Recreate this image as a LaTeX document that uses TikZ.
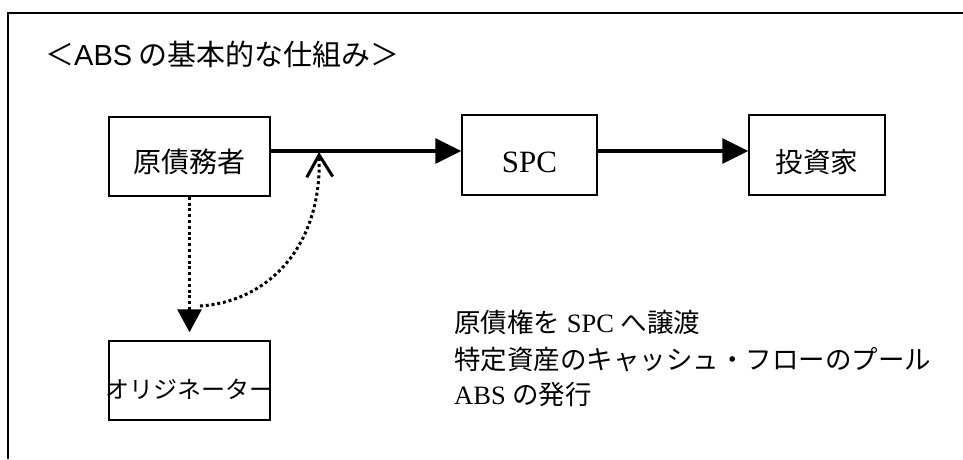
\documentclass[tikz,border=0pt]{standalone}
\usepackage{fontspec}
\setmainfont{Liberation Serif}
\newfontfamily\jp{Noto Sans CJK JP}
\newfontfamily\lsans{Liberation Sans}
\usetikzlibrary{arrows.meta}
\tikzset{
  box/.style={draw, line width=1.5pt, inner sep=0pt, text depth=0pt},
  flow/.style={line width=3.5pt, -{Triangle[length=26pt,width=25pt]}},
  dots/.style={line width=3pt, dash pattern=on 3pt off 2.8pt},
  txt/.style={anchor=base west, inner sep=0pt, font=\fontsize{26.5pt}{32pt}\selectfont},
  frame/.style={line width=2pt}
}
\begin{document}
\begin{tikzpicture}[x=1pt,y=-1pt]
\useasboundingbox (0,0) rectangle (963,459);
\draw[frame] (963,13) -- (8,13) -- (8,459);
% title
\node[anchor=base west, inner sep=0pt, font=\fontsize{29pt}{35pt}\selectfont] (title) at (45,65)
  {\jp ＜{\lsans ABS} の基本的な仕組み＞};
% boxes
\node[box, minimum width=161pt, minimum height=79pt, text height=31pt,
      font=\jp\fontsize{28pt}{34pt}\selectfont] (deb) at (189.5,156.5) {原債務者};
\node[box, minimum width=135pt, minimum height=80pt, text height=35pt,
      font=\fontsize{31pt}{36pt}\selectfont] (spc) at (529.5,155) {SPC};
\node[box, minimum width=136pt, minimum height=80pt, text height=34pt,
      font=\jp\fontsize{27.5pt}{33pt}\selectfont] (inv) at (817,155) {投資家};
\node[box, minimum width=161pt, minimum height=79pt, text height=35pt,
      font=\jp\fontsize{24pt}{30pt}\selectfont] (orig) at (189.5,380.5) {\makebox[0pt]{オリジネーター}};
% main flow
\draw[flow] ([yshift=5.5pt]deb.east) -- ([yshift=4pt]spc.west);
\draw[flow] ([yshift=4pt]spc.east) -- ([yshift=4pt]inv.west);
% dotted connectors
\draw[dots, -{Triangle[length=23pt,width=24pt]}, shorten >=8pt] (deb.south) -- (orig.north);
\coordinate (cs) at (200,306);
\coordinate (ce) at (319,152);
\draw[dots, -{Straight Barb[length=22pt,width=26pt,line width=3pt]}]
  (cs) .. controls (265,302) and (322,250) .. (ce);
% explanation
\node[txt] (l1) at (454,332) {{\jp 原債権を} SPC {\jp へ譲渡}};
\node[txt] (l2) at (454,369) {\jp 特定資産のキャッシュ・フローのプール};
\node[txt] (l3) at (454,404) {ABS {\jp の発行}};
\end{tikzpicture}
\end{document}
